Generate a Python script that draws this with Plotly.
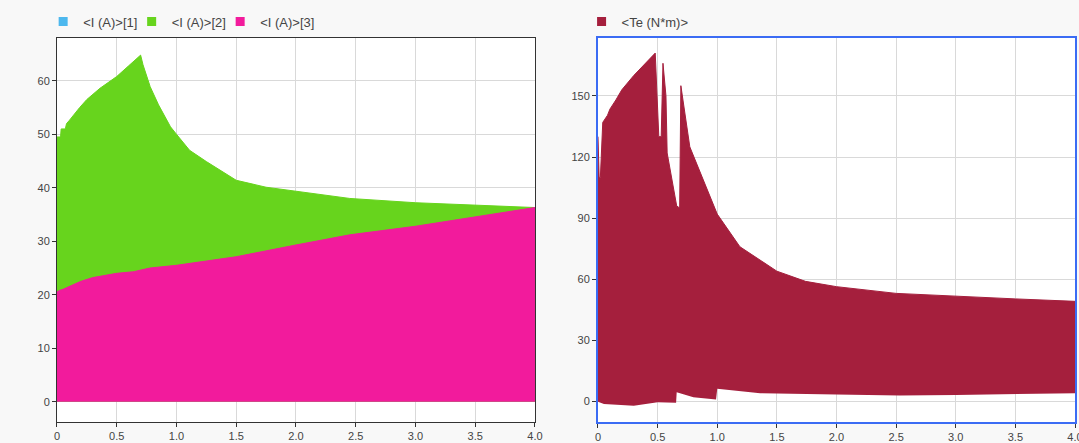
import plotly.graph_objects as go

# ---------------- data (envelopes) ----------------
# left panel: phase currents I (A)
t_i2 = [0, 0.03, 0.035, 0.07, 0.08, 0.1, 0.19, 0.25, 0.36, 0.5, 0.6, 0.7, 0.72, 0.75, 0.78,
        0.85, 0.95, 1.0, 1.11, 1.25, 1.5, 1.75, 2.0, 2.45, 3.0, 3.5, 4.0]
i2_upper = [49.5, 49.5, 51.0, 51.0, 52.0, 52.5, 55.0, 56.5, 58.6, 60.8, 62.8, 64.8, 63.0, 61.0, 58.9,
            55.5, 51.4, 50.0, 47.0, 44.9, 41.4, 40.1, 39.3, 38.0, 37.2, 36.7, 36.3]

t_i3 = [0, 0.02, 0.05, 0.1, 0.2, 0.3, 0.5, 0.64, 0.78, 1.0, 1.5, 2.0, 2.45, 3.0, 3.5, 4.0]
i3_upper = [20.5, 20.8, 21.0, 21.5, 22.5, 23.2, 24.0, 24.3, 25.0, 25.5, 27.1, 29.3, 31.2, 32.8, 34.6, 36.3]

t_i1 = [0, 1.0, 2.0, 3.0, 4.0]
i1_lower = [0, 0, 0, 0, 0]
i1_upper = [20.5, 25.5, 29.3, 32.8, 36.3]

# right panel: electromagnetic torque Te (N*m)
t_te_up = [0, 0.01, 0.02, 0.04, 0.08, 0.1, 0.15, 0.2, 0.3, 0.4, 0.45, 0.48, 0.51, 0.53, 0.545,
           0.555, 0.57, 0.58, 0.62, 0.66, 0.685, 0.695, 0.77, 0.88, 1.0, 1.19, 1.5, 1.74, 2.0,
           2.5, 3.0, 3.5, 4.0]
te_upper = [130, 110, 110, 137, 140.5, 143.5, 148, 153, 160, 166, 169, 171, 130, 130, 166,
            160, 150, 122, 109, 96, 95, 155, 125, 109, 92, 76, 64, 59, 56.4,
            53.1, 51.6, 50.4, 49.2]

t_te_lo = [0, 0.05, 0.3, 0.5, 0.655, 0.66, 0.8, 0.99, 1.0, 1.36, 2.0, 2.53, 3.0, 4.0]
te_lower = [0, -1.2, -2.0, -0.3, -0.5, 4.6, 2.1, 1.0, 6.3, 4.1, 3.5, 3.0, 3.3, 4.1]

x_ticks = [0, 0.5, 1.0, 1.5, 2.0, 2.5, 3.0, 3.5, 4.0]
x_tick_text = ["0", "0.5", "1.0", "1.5", "2.0", "2.5", "3.0", "3.5", "4.0"]
y1_ticks = [0, 10, 20, 30, 40, 50, 60]
y2_ticks = [0, 30, 60, 90, 120, 150]

names_left = ["&lt;I (A)&gt;[1]", "&lt;I (A)&gt;[2]", "&lt;I (A)&gt;[3]"]
name_right = "&lt;Te (N*m)&gt;"

C_BLUE = "#4db8ee"
C_GREEN = "#67d41d"
C_PINK = "#f21b9c"
C_TE = "#a51f3d"

fig = go.Figure()

# series [1] (hidden underneath)
fig.add_trace(go.Scatter(x=t_i1, y=i1_lower, mode="lines", line=dict(width=0, color=C_BLUE),
                         showlegend=False, hoverinfo="skip", xaxis="x", yaxis="y"))
fig.add_trace(go.Scatter(x=t_i1, y=i1_upper, mode="lines", fill="tonexty", fillcolor=C_BLUE,
                         line=dict(width=0, color=C_BLUE), showlegend=False, xaxis="x", yaxis="y"))
# series [2]
fig.add_trace(go.Scatter(x=t_i2, y=i2_upper, mode="lines", fill="tozeroy", fillcolor=C_GREEN,
                         line=dict(width=1, color=C_GREEN), showlegend=False, xaxis="x", yaxis="y"))
# series [3]
fig.add_trace(go.Scatter(x=t_i3, y=i3_upper, mode="lines", fill="tozeroy", fillcolor=C_PINK,
                         line=dict(width=1, color=C_PINK), showlegend=False, xaxis="x", yaxis="y"))

# Te
fig.add_trace(go.Scatter(x=t_te_lo, y=te_lower, mode="lines", line=dict(width=0, color=C_TE),
                         showlegend=False, hoverinfo="skip", xaxis="x2", yaxis="y2"))
fig.add_trace(go.Scatter(x=t_te_up, y=te_upper, mode="lines", fill="tonexty", fillcolor=C_TE,
                         line=dict(width=1, color=C_TE), showlegend=False, xaxis="x2", yaxis="y2"))

# legend entries (one legend box per entry to control spacing)
legend_ids = ["legend", "legend3", "legend4"]
for nm, col, lg in zip(names_left, [C_BLUE, C_GREEN, C_PINK], legend_ids):
    fig.add_trace(go.Scatter(x=[None], y=[None], mode="markers", name=nm,
                             marker=dict(symbol="square", size=9, color=col),
                             xaxis="x", yaxis="y", legend=lg))
fig.add_trace(go.Scatter(x=[None], y=[None], mode="markers", name=name_right,
                         marker=dict(symbol="square", size=9, color=C_TE),
                         xaxis="x2", yaxis="y2", legend="legend2"))

GRID = "#d9d9d9"
TICKFONT = dict(family="Liberation Sans, Arial, sans-serif", size=11, color="#444")
common_x = dict(range=[0, 4], tickmode="array", tickvals=x_ticks, ticktext=x_tick_text,
                showgrid=True, gridcolor=GRID, gridwidth=1.3, zeroline=False,
                ticks="outside", ticklen=4, tickcolor="#333", tickfont=TICKFONT,
                showline=True, mirror=True, automargin=False, ticklabeloverflow="allow")
common_y = dict(showgrid=True, gridcolor=GRID, gridwidth=1.3, zeroline=False,
                ticks="outside", ticklen=4, tickcolor="#333", tickfont=TICKFONT,
                showline=True, mirror=True, tickmode="array", automargin=False)

LEG = dict(orientation="h", y=0.985, xanchor="left", yanchor="top",
           bgcolor="rgba(0,0,0,0)", font=dict(size=13, color="#444"), itemwidth=30)

fig.update_layout(
    width=1079, height=443,
    margin=dict(l=0, r=0, t=0, b=0),
    paper_bgcolor="#f8f8f8",
    plot_bgcolor="#ffffff",
    font=dict(family="Liberation Sans, Arial, sans-serif", size=12, color="#444"),
    xaxis=dict(domain=[0.0528, 0.4958], anchor="y", linecolor="#333", linewidth=1, **common_x),
    yaxis=dict(domain=[0.0474, 0.9142], anchor="x", range=[-3.8, 68], tickvals=y1_ticks,
               linecolor="#333", linewidth=1, **common_y),
    xaxis2=dict(domain=[0.5542, 0.9963], anchor="y2", linecolor="#3b6cf4", linewidth=2, **common_x),
    yaxis2=dict(domain=[0.0474, 0.9142], anchor="x2", range=[-10, 178.4], tickvals=y2_ticks,
                linecolor="#3b6cf4", linewidth=2, **common_y),
    legend=dict(x=0.040, **LEG),
    legend3=dict(x=0.040 + 88.5 / 1079, **LEG),
    legend4=dict(x=0.040 + 177 / 1079, **LEG),
    legend2=dict(x=0.539, **LEG),
    showlegend=True,
)

fig.write_html("out.html", config={"displayModeBar": False},
               post_script="document.body.style.margin='0';")
